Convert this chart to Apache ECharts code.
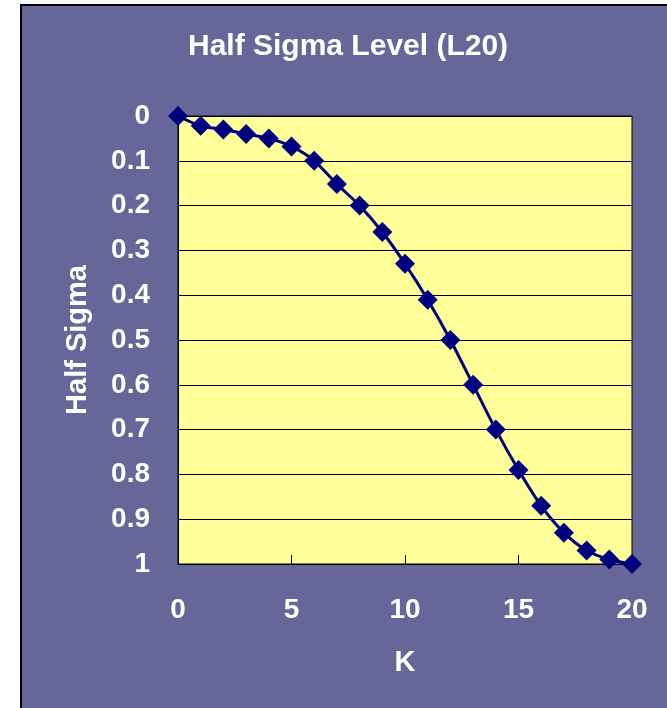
<!DOCTYPE html>
<html>
<head>
<meta charset="utf-8">
<style>
  html, body { margin: 0; padding: 0; background: #ffffff; }
  #chart { width: 667px; height: 708px; }
</style>
<script src="https://cdn.jsdelivr.net/npm/echarts@6/dist/echarts.min.js"></script>
</head>
<body>
<div id="chart"></div>
<script>
const titleText = 'Half Sigma Level (L20)';
const xAxisName = 'K';
const yAxisName = 'Half Sigma';
const kValues = [0, 1, 2, 3, 4, 5, 6, 7, 8, 9, 10, 11, 12, 13, 14, 15, 16, 17, 18, 19, 20];
const halfSigma = [0, 0.022, 0.03, 0.04, 0.05, 0.068, 0.1, 0.152, 0.2, 0.259, 0.33, 0.41, 0.5, 0.6, 0.7, 0.79, 0.87, 0.93, 0.97, 0.99, 1.0];

const FONT = "'Liberation Sans', Arial, sans-serif";
const chart = echarts.init(document.getElementById('chart'), null, { renderer: 'canvas' });

const seriesData = kValues.map((k, i) => [k, halfSigma[i]]);

chart.setOption({
  backgroundColor: '#ffffff',
  animation: false,
  graphic: [{
    type: 'rect',
    z: -10,
    silent: true,
    shape: { x: 21, y: 5, width: 700, height: 760 },
    style: { fill: '#666699', stroke: '#000000', lineWidth: 2 }
  }],
  title: {
    text: titleText,
    left: 183,
    top: 27,
    textStyle: { color: '#ffffff', fontFamily: FONT, fontWeight: 'bold', fontSize: 30 }
  },
  grid: {
    left: 178, top: 116, right: 35, bottom: 144,
    show: true,
    backgroundColor: '#FFFF99',
    borderColor: '#000000',
    borderWidth: 1
  },
  xAxis: {
    type: 'value',
    min: 0, max: 20, interval: 5,
    name: xAxisName,
    nameLocation: 'middle',
    nameGap: 84,
    nameTextStyle: { color: '#ffffff', fontFamily: FONT, fontWeight: 'bold', fontSize: 29 },
    axisLine: { show: true, onZero: false, lineStyle: { color: '#000000', width: 1 } },
    axisTick: { show: true, inside: true, length: 9, lineStyle: { color: '#000000' } },
    axisLabel: { color: '#ffffff', fontFamily: FONT, fontWeight: 'bold', fontSize: 28, margin: 32 },
    splitLine: { show: false }
  },
  yAxis: {
    type: 'value',
    inverse: true,
    min: 0, max: 1, interval: 0.1,
    name: yAxisName,
    nameLocation: 'middle',
    nameGap: 86,
    nameRotate: 90,
    nameTextStyle: { color: '#ffffff', fontFamily: FONT, fontWeight: 'bold', fontSize: 29 },
    axisLine: { show: true, onZero: false, lineStyle: { color: '#000000', width: 1 } },
    axisTick: { show: true, inside: true, length: 9, lineStyle: { color: '#000000' } },
    axisLabel: { color: '#ffffff', fontFamily: FONT, fontWeight: 'bold', fontSize: 28, margin: 28 },
    splitLine: { show: true, lineStyle: { color: '#000000', width: 1 } }
  },
  series: [{
    type: 'line',
    data: seriesData,
    smooth: 0.3,
    clip: false,
    symbol: 'diamond',
    symbolSize: [20, 20],
    lineStyle: { color: '#000080', width: 3 },
    itemStyle: { color: '#000080', borderWidth: 0 }
  }]
});
</script>
</body>
</html>
